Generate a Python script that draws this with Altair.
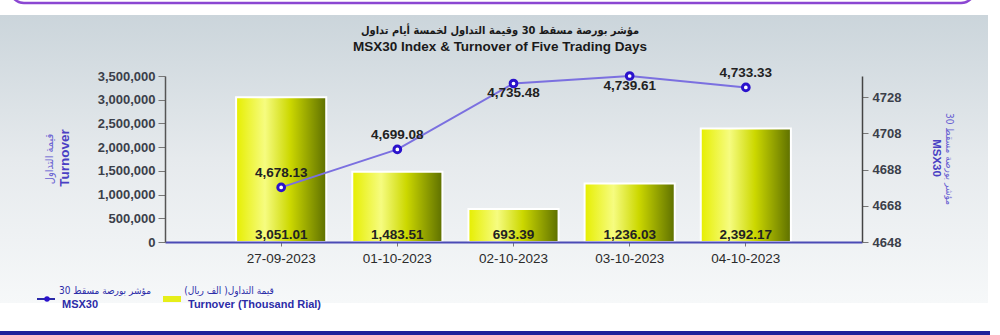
import altair as alt
import pandas as pd

# ---- data ----
dates = ["27-09-2023", "01-10-2023", "02-10-2023", "03-10-2023", "04-10-2023"]
turnover = [3051010, 1483510, 693390, 1236030, 2392170]
turnover_labels = ["3,051.01", "1,483.51", "693.39", "1,236.03", "2,392.17"]
msx30 = [4678.13, 4699.08, 4735.48, 4739.61, 4733.33]
msx30_labels = ["4,678.13", "4,699.08", "4,735.48", "4,739.61", "4,733.33"]
label_side = ["above", "above", "below", "below", "above"]

left_ticks = [0, 500000, 1000000, 1500000, 2000000, 2500000, 3000000, 3500000]
right_ticks = [4648, 4668, 4688, 4708, 4728]

title_ar = "مؤشر بورصة مسقط 30 وقيمة التداول لخمسة أيام تداول"
title_en = "MSX30 Index & Turnover of Five Trading Days"
left_title_ar = "قيمة التداول"
left_title_en = "Turnover"
right_title_ar = "مؤشر بورصة مسقط 30"
right_title_en = "MSX30"
legend_line_ar = "مؤشر بورصة مسقط 30"
legend_line_en = "MSX30"
legend_bar_ar = "قيمة التداول( الف ريال)"
legend_bar_en = "Turnover (Thousand Rial)"

df = pd.DataFrame({
    "date": dates,
    "turnover": turnover,
    "tlabel": turnover_labels,
    "msx": msx30,
    "mlabel": msx30_labels,
    "side": label_side,
})

W, H = 697, 166
PL, PT, PR, PB = 165, 76, 138, 93
FONT = "Liberation Sans, Arial, sans-serif"
AR_FONT = "DejaVu Sans Condensed, DejaVu Sans, sans-serif"
one = pd.DataFrame({"k": [0]})

def px(x):
    return x - PL

def py(y):
    return y - PT

def text(s, x, y, size, weight="normal", color="#222", font=FONT, angle=0, align="center"):
    return alt.Chart(pd.DataFrame({"t": [s]})).mark_text(
        fontSize=size, fontWeight=weight, color=color, font=font,
        angle=angle, align=align, baseline="middle"
    ).encode(text="t:N", x=alt.value(px(x)), y=alt.value(py(y)))

# ---- decoration ----
panel = alt.Chart(one).mark_rect(
    fill=alt.Gradient(gradient="linear", x1=0, x2=0, y1=0, y2=1,
                      stops=[alt.GradientStop(color="#cbd5db", offset=0),
                             alt.GradientStop(color="#e6eaed", offset=0.5),
                             alt.GradientStop(color="#f6f8f9", offset=1)])
).encode(x=alt.value(px(0)), x2=alt.value(px(988)), y=alt.value(py(15)), y2=alt.value(py(303)))

top_box = alt.Chart(one).mark_rect(
    fill="white", stroke="#8b47d2", strokeWidth=2.5, cornerRadius=14
).encode(x=alt.value(px(10)), x2=alt.value(px(975)), y=alt.value(py(-40)), y2=alt.value(py(3)))

bottom_bar = alt.Chart(one).mark_rect(fill="#20209a").encode(
    x=alt.value(px(0)), x2=alt.value(px(990)), y=alt.value(py(331)), y2=alt.value(py(336)))

titles = [
    text(title_ar, 500, 31, 11, "bold", "#1a1a1a", AR_FONT),
    text(title_en, 500, 47, 13.5, "bold", "#1a1a1a", "Liberation Sans Narrow, " + FONT),
    text(left_title_ar, 50, 159, 11, "normal", "#6a62d2", AR_FONT, angle=270),
    text(left_title_en, 65, 158, 13.5, "bold", "#4a40c4", FONT, angle=270),
    text(right_title_en, 936, 158, 11.5, "bold", "#4a40c4", FONT, angle=90),
    text(right_title_ar, 949, 159, 10, "normal", "#6a62d2", AR_FONT, angle=90),
    text(legend_line_ar, 105, 291, 10, "normal", "#2c2ca8", AR_FONT),
    text(legend_line_en, 62, 305, 11, "bold", "#2c2ca8", FONT, align="left"),
    text(legend_bar_ar, 229, 291, 10, "normal", "#2c2ca8", AR_FONT),
    text(legend_bar_en, 188, 305, 11, "bold", "#2c2ca8", FONT, align="left"),
]

leg_line = alt.Chart(one).mark_rule(color="#2a2aa8", strokeWidth=2).encode(
    x=alt.value(px(37)), x2=alt.value(px(55)), y=alt.value(py(299)))
leg_dot = alt.Chart(one).mark_point(shape="circle", filled=True, fill="#2a12cc", size=30, opacity=1).encode(
    x=alt.value(px(47)), y=alt.value(py(299)))
leg_rect = alt.Chart(one).mark_rect(fill="#e6ee1a").encode(
    x=alt.value(px(163)), x2=alt.value(px(181)), y=alt.value(py(296)), y2=alt.value(py(302)))

# ---- data layers ----
x_enc = alt.X("date:N", sort=dates,
              scale=alt.Scale(paddingInner=0.2241, paddingOuter=0.612),
              axis=alt.Axis(title=None, labelAngle=0, labelFont=FONT, labelFontSize=13.5,
                            labelColor="#2b2b2b", labelPadding=5, domainColor="#4b4bb5",
                            domainWidth=2, tickColor="#777", tickSize=4, grid=False, zindex=1))

bar_grad = alt.Gradient(gradient="linear", x1=0, x2=1, y1=0, y2=0,
                        stops=[alt.GradientStop(color="#e6ee00", offset=0),
                               alt.GradientStop(color="#f6fc80", offset=0.32),
                               alt.GradientStop(color="#ccd800", offset=0.6),
                               alt.GradientStop(color="#5e7000", offset=1)])

bar_base = alt.Chart(df).encode(x=x_enc)
bars = bar_base.mark_bar(fill=bar_grad, stroke="white", strokeWidth=2).encode(
    y=alt.Y("turnover:Q", scale=alt.Scale(domain=[0, 3500000], nice=False),
            axis=alt.Axis(orient="left", values=left_ticks, format=",.0f", title=None,
                          labelFont=FONT, labelFontSize=13, labelFontWeight="bold",
                          labelColor="#3b3f4a", domainColor="#555", domainWidth=1.5,
                          tickColor="#777", tickSize=7, labelPadding=3, grid=False, zindex=1))
)
bar_labels = bar_base.mark_text(font=FONT, fontSize=13.5, fontWeight="bold", color="#222",
                                baseline="alphabetic", dy=-3).encode(
    y=alt.value(H), text="tlabel:N")
left_layer = alt.layer(bars, bar_labels)

y_right = alt.Y("msx:Q", scale=alt.Scale(domain=[4648, 4739.61], nice=False, zero=False),
                axis=alt.Axis(orient="right", values=right_ticks, format="d", title=None,
                              labelFont=FONT, labelFontSize=13, labelFontWeight="bold",
                              labelColor="#3b3f4a", domainColor="#444", domainWidth=1.5,
                              tickColor="#777", tickSize=6, labelPadding=4, grid=False, zindex=1))
line_base = alt.Chart(df).encode(x=x_enc, y=y_right)
line = line_base.mark_line(color="#7b70e0", strokeWidth=2)
points = line_base.mark_point(shape="circle", filled=True, fill="white", stroke="#2a12cc",
                              strokeWidth=3, size=45, opacity=1)
lab_above = line_base.transform_filter(alt.datum.side == "above").mark_text(
    font=FONT, fontSize=13.5, fontWeight="bold", color="#222", baseline="bottom", dy=-7
).encode(text="mlabel:N")
lab_below = line_base.transform_filter(alt.datum.side == "below").mark_text(
    font=FONT, fontSize=13.5, fontWeight="bold", color="#222", baseline="top", dy=3
).encode(text="mlabel:N")
right_layer = alt.layer(line, points, lab_above, lab_below)

chart = alt.layer(
    panel, top_box, bottom_bar, *titles, leg_line, leg_dot, leg_rect,
    left_layer, right_layer
).resolve_scale(y="independent").properties(
    width=W, height=H,
    autosize=alt.AutoSizeParams(type="none"),
    padding={"left": PL, "top": PT, "right": PR, "bottom": PB},
    background="white",
).configure_view(stroke=None)

chart.save("out.html", embed_options={"renderer": "svg", "actions": False})
